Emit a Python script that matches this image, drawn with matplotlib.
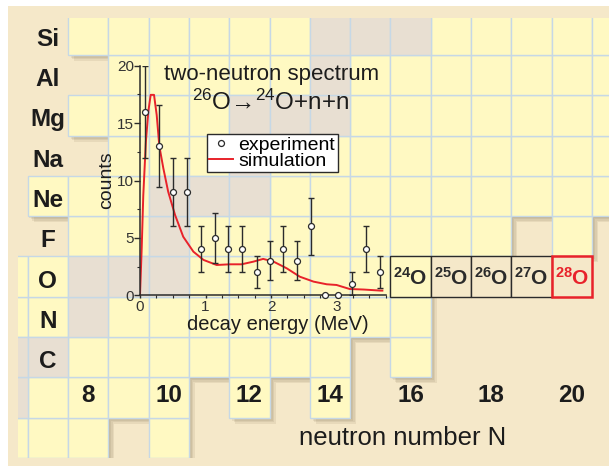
import matplotlib
matplotlib.use('Agg')
import matplotlib.pyplot as plt
from matplotlib.patches import Rectangle
from matplotlib.ticker import MultipleLocator

plt.rcParams['font.family'] = ['Liberation Sans', 'DejaVu Sans']
plt.rcParams['mathtext.fontset'] = 'custom'
plt.rcParams['mathtext.rm'] = 'Liberation Sans'
plt.rcParams['mathtext.bf'] = 'Liberation Sans:bold'
plt.rcParams['mathtext.it'] = 'Liberation Sans:italic'

# ---- chart of nuclides (Z -> neutron numbers) ----
elements = ['C', 'N', 'O', 'F', 'Ne', 'Na', 'Mg', 'Al', 'Si']
element_Z = [6, 7, 8, 9, 10, 11, 12, 13, 14]
bound_N = {
    4: [6, 7, 8, 10],
    5: [7, 8, 9, 10, 12, 14],
    6: [8, 9, 10, 11, 12, 13, 14, 16],
    7: [6, 7, 9, 10, 11, 12, 13, 14, 15, 16],
    8: [6, 7, 11, 12, 13, 14, 15, 16],
    9: [8, 9, 11, 12, 13, 14, 15, 16, 17, 18, 20],
    10: [7, 8, 9, 13, 14, 15, 16, 17, 18, 19, 20, 21],
    11: [9, 10, 11, 13, 14, 15, 16, 17, 18, 19, 20, 21],
    12: [8, 9, 10, 11, 15, 16, 17, 18, 19, 20, 21],
    13: [9, 10, 11, 12, 13, 15, 16, 17, 18, 19, 20, 21],
    14: [8, 9, 10, 11, 12, 13, 17, 18, 19, 20, 21],
}
stable_N = {
    5: [6], 6: [6, 7], 7: [8], 8: [8, 9, 10], 9: [10],
    10: [10, 11, 12], 11: [12], 12: [12, 13, 14], 13: [14], 14: [14, 15, 16],
}
oxygen_N = [16, 17, 18, 19, 20]
oxygen_A = ['24', '25', '26', '27', '28']
neutron_labels = [8, 10, 12, 14, 16, 18, 20]

# ---- two-neutron decay spectrum ----
energy = [0.08, 0.295, 0.51, 0.72, 0.93, 1.14, 1.35, 1.56, 1.78, 1.985,
          2.19, 2.40, 2.61, 2.82, 3.03, 3.24, 3.455, 3.67]
counts = [16, 13, 9, 9, 4, 5, 4, 4, 2, 3, 4, 3, 6, 0, 0, 1, 4, 2]
count_err = [4, 3.6, 3, 3, 2, 2.2, 2, 2, 1.4, 1.7, 2, 1.7, 2.45, 0, 0, 1, 2, 1.4]

sim_energy = [0.0, 0.026, 0.05, 0.09, 0.127, 0.163, 0.214, 0.255, 0.295, 0.356,
              0.43, 0.535, 0.66, 0.815, 0.97, 1.17, 1.37, 1.55, 1.73, 1.88,
              2.04, 2.24, 2.44, 2.65, 2.85, 3.0, 3.2, 3.42, 3.67, 3.7]
sim_counts = [0.0, 4.1, 8.7, 13.4, 16.0, 17.46, 17.46, 15.7, 13.0, 11.07,
              9.03, 7.0, 5.1, 3.8, 3.08, 2.64, 2.7, 2.7, 2.93, 3.17,
              2.93, 2.35, 1.62, 1.19, 0.96, 0.9, 0.55, 0.5, 0.41, 0.41]

BEIGE = '#f5e8c9'
YELLOW = '#fff9c2'
STABLE = '#e8dfd2'
GRID = '#c6d8e6'
SHADOW = '#5e4a2a'
DARK = '#2b2b2b'
RED = '#e8222a'

W, H = 609, 466
fig = plt.figure(figsize=(W / 100, H / 100), dpi=100)
fig.add_artist(Rectangle((8 / W, 0), 1, 460 / H, transform=fig.transFigure,
                         facecolor=BEIGE, edgecolor='none', zorder=0))

chart = fig.add_axes([18 / W, 8 / H, 591 / W, 440 / H])
chart.set_xlim(6.26, 20.921)
chart.set_ylim(3.5, 14.418)
chart.set_facecolor(BEIGE)
for s in chart.spines.values():
    s.set_visible(False)
chart.set_xticks([])
chart.set_yticks([])

px = 1 / 40.3
cells = []
for Z, Ns in bound_N.items():
    for N in Ns:
        cells.append((N, Z, YELLOW))
for Z, Ns in stable_N.items():
    for N in Ns:
        cells.append((N, Z, STABLE))

# soft drop shadows
for N, Z, c in cells:
    for d in [1.5, 3, 4.5, 6]:
        chart.add_patch(Rectangle((N - 0.5 + d * px, Z - 0.5 - d * px), 1, 1,
                                  facecolor=SHADOW, alpha=0.09, edgecolor='none',
                                  antialiased=False, zorder=1))
for N, Z, c in cells:
    chart.add_patch(Rectangle((N - 0.5, Z - 0.5), 1, 1, facecolor=c,
                              edgecolor=GRID, lw=1.0, zorder=2))

for N, A in zip(oxygen_N, oxygen_A):
    col = RED if A == '28' else DARK
    fc = YELLOW if A == '24' else BEIGE
    lw = 1.8 if A == '28' else 1.0
    chart.add_patch(Rectangle((N - 0.5, 7.5), 1, 1, facecolor=fc, edgecolor=col,
                              lw=lw, zorder=3 if A != '28' else 3.5))
    chart.text(N, 8 - 0.2, r'$^{\mathbf{' + A + '}}$O', ha='center', va='baseline',
               fontsize=15, fontweight='bold', color=col, zorder=4)

for sym, Z in zip(elements, element_Z):
    chart.text(7, Z - 0.27, sym, ha='center', va='baseline', fontsize=17.5,
               fontweight='bold', color='#1c1c1c', zorder=4)
for N in neutron_labels:
    chart.text(N, 4.89, str(N), ha='center', va='baseline', fontsize=17.5,
               fontweight='bold', color='#1c1c1c', zorder=4)
chart.text(13.23, 3.82, 'neutron number N', ha='left', va='baseline',
           fontsize=18.5, color='#1c1c1c', zorder=4)

# ---- inset spectrum ----
ax = fig.add_axes([140 / W, (H - 295.3) / H, 246.3 / W, 229.6 / H])
ax.set_facecolor('none')
ax.set_xlim(0, 3.76)
ax.set_ylim(0, 20)
for s in ['top', 'right']:
    ax.spines[s].set_visible(False)
for s in ['left', 'bottom']:
    ax.spines[s].set_color(DARK)
    ax.spines[s].set_linewidth(1.1)

ax.errorbar(energy, counts, yerr=count_err, fmt='none', ecolor=DARK,
            elinewidth=1.0, capsize=2.2, capthick=1.0, zorder=3)
h_sim, = ax.plot(sim_energy, sim_counts, color=RED, lw=1.4, zorder=2,
                 label='simulation')
h_exp, = ax.plot(energy, counts, 'o', ms=4.3, mfc='white', mec=DARK, mew=0.9,
                 zorder=4, clip_on=False, label='experiment')

ax.xaxis.set_major_locator(MultipleLocator(1))
ax.xaxis.set_minor_locator(MultipleLocator(0.25))
ax.yaxis.set_major_locator(MultipleLocator(5))
ax.yaxis.set_minor_locator(MultipleLocator(2.5))
ax.tick_params(axis='y', which='major', direction='out', length=4, width=1,
               color=DARK, labelsize=11, labelcolor='#333', pad=0.5)
ax.tick_params(axis='y', which='minor', direction='out', length=2.5, width=0.8, color=DARK)
ax.tick_params(axis='x', which='major', direction='out', length=2.5, width=1,
               color=DARK, labelsize=11, labelcolor='#333', pad=1)
ax.tick_params(axis='x', which='minor', direction='out', length=1.8, width=0.8, color=DARK)

leg = ax.legend(handles=[h_exp, h_sim], loc='upper left', bbox_to_anchor=(0.272, 0.7025),
                fontsize=14, frameon=True, fancybox=False, edgecolor=DARK,
                framealpha=1, borderpad=0.12, labelspacing=-0.1, handlelength=1.2,
                handletextpad=0.3, borderaxespad=0)
leg.get_frame().set_linewidth(1.0)
leg.set_zorder(5)

ax.text(0.536, 0.9377, 'two-neutron spectrum', transform=ax.transAxes,
        ha='center', va='baseline', fontsize=16, color='#1c1c1c')
ax.text(0.532, 0.807, '$^{26}$O\u2192$^{24}$O+n+n', transform=ax.transAxes,
        ha='center', va='baseline', fontsize=17.5, color='#1c1c1c')
ax.text(-0.134, 0.502, 'counts', rotation=90, transform=ax.transAxes,
        ha='center', va='center', fontsize=14, color='#1c1c1c')
ax.text(0.558, -0.151, 'decay energy (MeV)', transform=ax.transAxes,
        ha='center', va='baseline', fontsize=14.5, color='#1c1c1c')

fig.savefig('out.png', dpi=100)
